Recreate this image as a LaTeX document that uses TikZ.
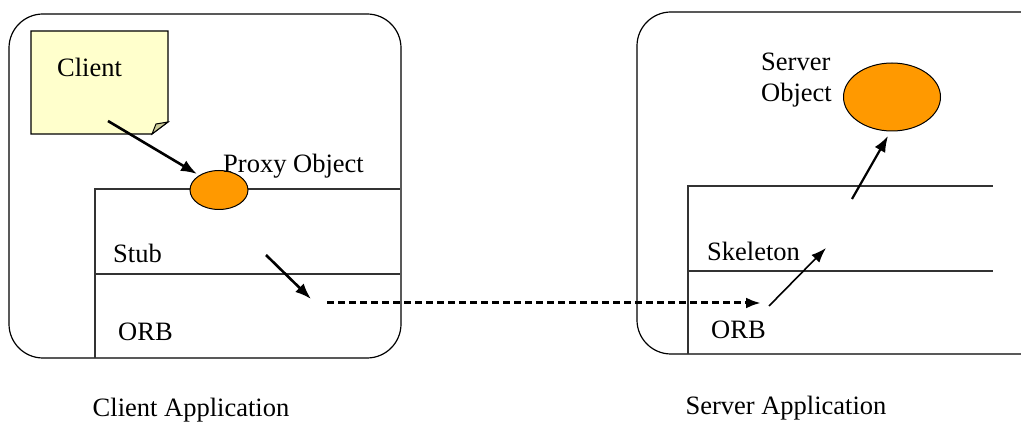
\documentclass[tikz,border=0pt]{standalone}
\usepackage{fontspec}
\setmainfont{Liberation Serif}
\usetikzlibrary{arrows.meta,shapes.geometric}
\definecolor{notefill}{HTML}{FFFFCC}
\definecolor{foldfill}{HTML}{CCCC99}
\definecolor{objorange}{HTML}{FF9900}
\definecolor{boxline}{HTML}{333333}
\tikzset{
  appbox/.style={draw=black, line width=1.2pt, rounded corners=34pt},
  layer/.style={draw=boxline, line width=1.2pt},
  lbl/.style={anchor=base west, inner sep=0pt, font=\fontsize{26.5}{32}\selectfont},
  obj/.style={ellipse, draw=black, line width=1pt, fill=objorange, inner sep=0pt},
  thickarrow/.style={line width=2.6pt, -{Latex[length=16pt,width=12pt]}},
  thinarrow/.style={line width=1.6pt, -{Latex[length=15pt,width=11pt]}},
  dasharrow/.style={line width=3pt, dash pattern=on 7pt off 4pt, -{Latex[length=15pt,width=11pt]}},
}
\begin{document}
\begin{tikzpicture}[x=1pt,y=-1pt]
\path[use as bounding box, clip] (0,0) rectangle (1021,422);
% application boxes
\draw[appbox] (9,14) rectangle (401,358);
\draw[appbox] (637,12) rectangle (1060,354);
% client layers
\draw[layer] (95,358) -- (95,189) -- (400,189);
\draw[layer] (95,274) -- (400,274);
% server layers
\draw[layer] (688,354) -- (688,186) -- (993,186);
\draw[layer] (688,271) -- (993,271);
% client note
\draw[line width=1.2pt, fill=notefill] (31,31) -- (168,31) -- (168,122) -- (152,134) -- (31,134) -- cycle;
\draw[line width=1pt, fill=foldfill] (152,134) -- (156,124) -- (168,122) -- cycle;
\node[lbl] (client) at (57,77) {Client};
% proxy object
\node[obj, minimum width=58pt, minimum height=39pt] (proxy) at (219,190) {};
\node[lbl] (proxylbl) at (223,173) {Proxy Object};
% server object
\node[obj, minimum width=97pt, minimum height=68pt] (server) at (892,97) {};
\node[lbl] (serverlbl) at (761,71) {Server};
\node[lbl] (serverlbl2) at (761,102) {Object};
% layer labels
\node[lbl] (stub) at (113,263) {Stub};
\node[lbl] (orbc) at (118,341) {ORB};
\node[lbl] (skel) at (707,261) {Skeleton};
\node[lbl] (orbs) at (711,338) {ORB};
% application labels
\node[lbl, anchor=base] (capp) at (191,416) {Client Application};
\node[lbl, anchor=base] (sapp) at (786,414) {Server Application};
% connector coordinates
\coordinate (c1) at (108,121);
\coordinate (c2) at (197,174);
\coordinate (s1) at (266,255);
\coordinate (s2) at (311,299);
\coordinate (d1) at (327,303);
\coordinate (d2) at (761,303);
\coordinate (k1) at (769,306);
\coordinate (k2) at (826,248);
\coordinate (o1) at (852,199);
\coordinate (o2) at (888,136);
\draw[thickarrow] (c1) -- (c2);
\draw[thickarrow] (s1) -- (s2);
\draw[dasharrow] (d1) -- (d2);
\draw[thinarrow] (k1) -- (k2);
\draw[thickarrow, line width=2.2pt] (o1) -- (o2);
\end{tikzpicture}
\end{document}
